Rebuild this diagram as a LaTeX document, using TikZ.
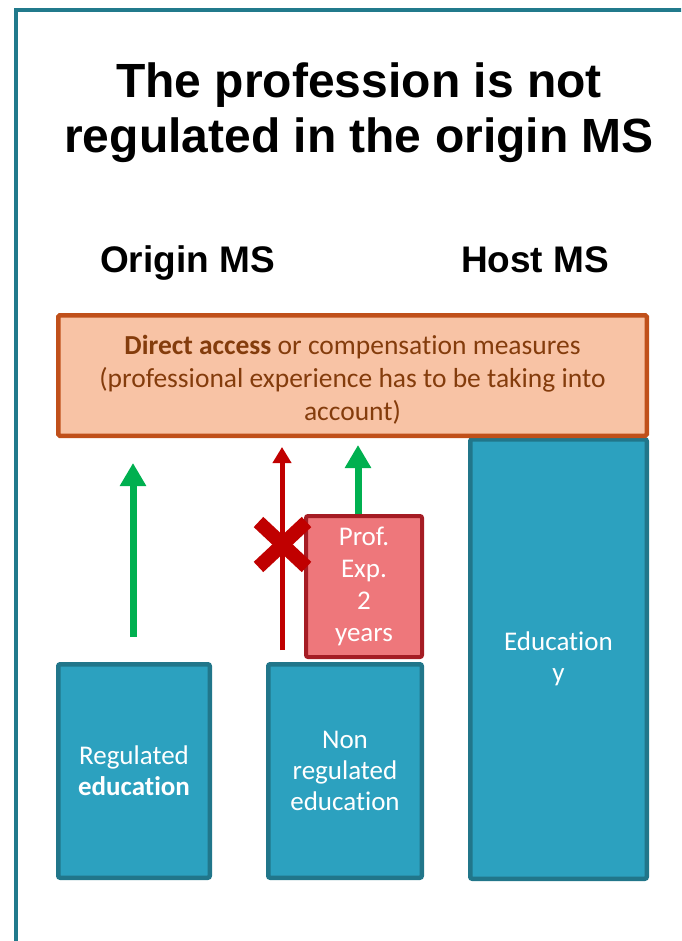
\documentclass[tikz,border=0pt]{standalone}
\usepackage{fontspec}
\setmainfont{Carlito}[Ligatures=NoCommon, Contextuals=NoAlternate]
\newfontfamily\arialfont{Liberation Sans}
\usetikzlibrary{arrows.meta}
\definecolor{frameteal}{HTML}{217A8C}
\definecolor{tealfill}{HTML}{2CA1BF}
\definecolor{tealline}{HTML}{21768A}
\definecolor{peach}{HTML}{F8C3A5}
\definecolor{orangeline}{HTML}{C0501A}
\definecolor{browntext}{HTML}{843C0C}
\definecolor{pinkfill}{HTML}{EE777B}
\definecolor{pinkline}{HTML}{A51C24}
\definecolor{arrowgreen}{HTML}{00B050}
\definecolor{arrowred}{HTML}{C00000}
\begin{document}
\begin{tikzpicture}[x=1pt,y=-1pt,
  tealbox/.style={draw=tealline, fill=tealfill, line width=4.5pt, rounded corners=2pt,
    text=white, align=center, font=\fontsize{27}{31}\selectfont, inner sep=0pt},
  accessbox/.style={draw=orangeline, fill=peach, line width=4.5pt, rounded corners=1.5pt, inner sep=0pt},
  accesstext/.style={text=browntext, align=center, font=\fontsize{27.5}{33}\selectfont, inner sep=0pt},
  expbox/.style={draw=pinkline, fill=pinkfill, line width=4pt, rounded corners=2pt,
    text=white, align=center, font=\fontsize{27}{32}\selectfont, inner sep=0pt},
  titletext/.style={font=\arialfont\bfseries\fontsize{48}{55}\selectfont, align=center, inner sep=0pt},
  headtext/.style={font=\arialfont\bfseries\fontsize{37}{44}\selectfont, inner sep=0pt, anchor=base},
  okarrow/.style={draw=arrowgreen, line width=7pt, -{Triangle[width=25pt,length=23pt]}},
  noarrow/.style={draw=arrowred, line width=5pt, -{Triangle[width=18pt,length=16pt]}},
  xmark/.style={draw=arrowred, line width=14pt, line cap=butt}
]
\path[use as bounding box] (0,0) rectangle (681,941);
\clip (0,0) rectangle (681,941);
\draw[frameteal, line width=4pt] (16,10) rectangle (720,980);

\node[titletext] (title) at (359,112.5) {The profession is not\\regulated in the origin MS};
\node[headtext] (origin) at (187.5,272) {Origin MS};
\node[headtext] (host) at (535,272) {Host MS};

\node[tealbox, minimum width=176.5pt, minimum height=439.5pt] (hostedu) at (558.5,659) {Education\\y};
\node[accessbox, minimum width=588.5pt, minimum height=120.5pt] (access) at (352.5,375.5) {};
\node[accesstext] (accesstxt) at ([yshift=-4pt]access.center)
  {\textbf{Direct access} or compensation measures\\(professional experience has to be taking into\\account)};
\node[tealbox, minimum width=151.5pt, minimum height=213.5pt] (regedu) at (134,771) {Regulated\\\textbf{education}};
\node[tealbox, minimum width=153.5pt, minimum height=213.5pt] (nonreg) at (345,771) {Non\\regulated\\education};
\node[expbox, minimum width=116pt, minimum height=141pt] (exp) at (364,586.5) {Prof.\\Exp.\\2\\years};

\coordinate (g1s) at (133,637);
\coordinate (g1e) at (133,463);
\coordinate (rs) at (282,650);
\coordinate (re) at (282,447);
\coordinate (g2e) at (358,445);
\draw[okarrow] (g1s) -- (g1e);
\draw[noarrow] (rs) -- (re);
\draw[okarrow] (exp.north -| g2e) -- (g2e);

\coordinate (xc) at (282.5,544.5);
\draw[xmark] ([shift={(-24,-22.5)}]xc) -- ([shift={(24,22.5)}]xc);
\draw[xmark] ([shift={(-24,22.5)}]xc) -- ([shift={(24,-22.5)}]xc);
\end{tikzpicture}
\end{document}
